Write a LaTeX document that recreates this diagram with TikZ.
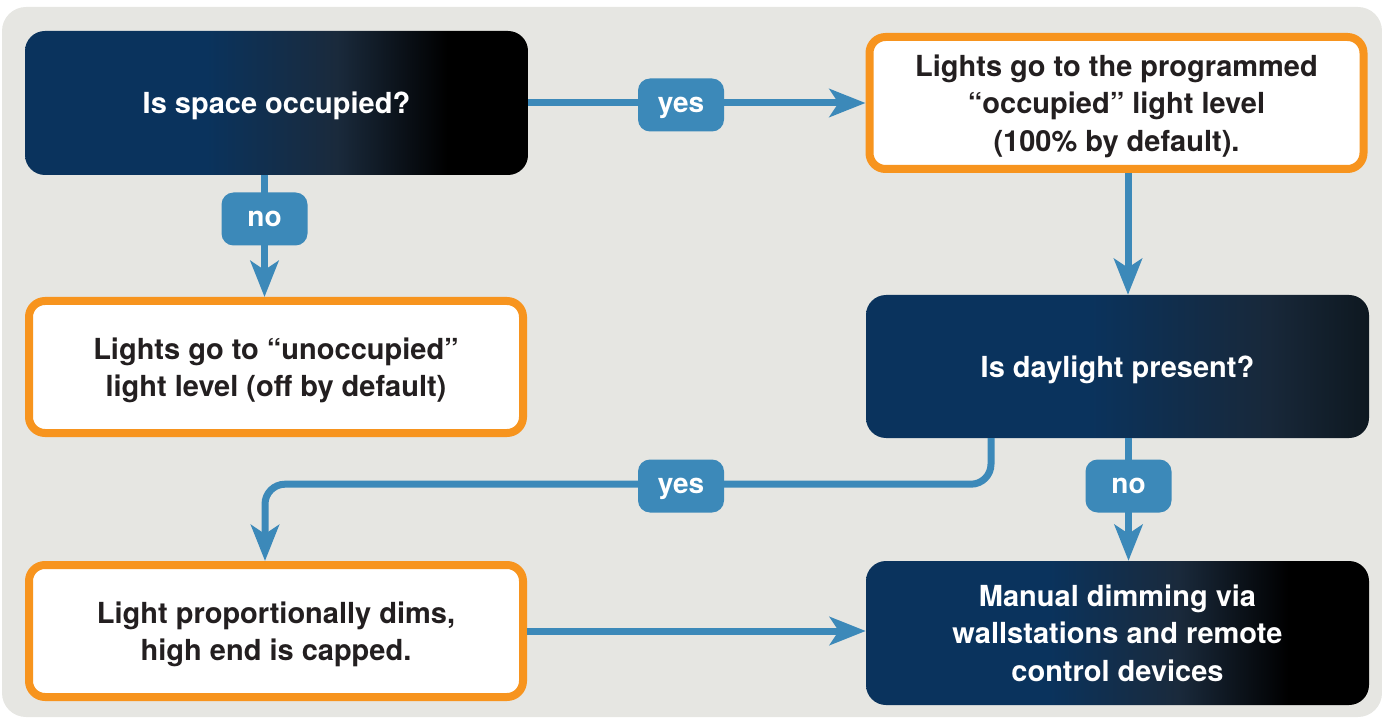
\documentclass[tikz,border=0pt]{standalone}
\usepackage{fontspec}
\setmainfont{TeX Gyre Heros}
\usetikzlibrary{arrows.meta,positioning}
\definecolor{panel}{HTML}{E6E6E2}
\definecolor{navy}{HTML}{0A335D}
\definecolor{midnight}{HTML}{1A2A3C}
\definecolor{slate}{HTML}{18283A}
\definecolor{ink}{HTML}{0E1820}
\definecolor{flow}{HTML}{3C89B9}
\definecolor{amber}{HTML}{F7941E}
\definecolor{textdark}{HTML}{231F20}
% shadings: the path is mapped onto 25bp--75bp
\pgfdeclarehorizontalshading{navyblack}{100bp}{color(0bp)=(navy); color(43bp)=(navy); color(56bp)=(midnight); color(67bp)=(black); color(100bp)=(black)}
\pgfdeclarehorizontalshading{navyslate}{100bp}{color(0bp)=(navy); color(47bp)=(navy); color(65bp)=(slate); color(75bp)=(ink); color(100bp)=(ink)}
\tikzset{
	boxfont/.style={font=\bfseries\fontsize{29}{37.5}\selectfont, text depth=0pt},
}

\begin{document}
\begin{tikzpicture}[x=1pt, y=-1pt,
		DarkBox/.style={boxfont, text=white, rounded corners=20pt, align=center, minimum width=503pt, minimum height=144pt, inner sep=0pt},
		LightBox/.style={boxfont, text=textdark, fill=white, draw=amber, line width=8pt, rounded corners=16pt, align=center, minimum width=494pt, minimum height=132pt, inner sep=0pt},
		Answer/.style={fill=flow, text=white, rounded corners=12pt, minimum width=86pt, minimum height=53pt, inner sep=0pt, text depth=0pt, font=\bfseries\fontsize{28}{34}\selectfont},
		Flow/.style={draw=flow, line width=7pt, -{Stealth[length=36pt, width=28pt, inset=9pt]}}]
	\useasboundingbox (0,0) rectangle (1382,719);
	\fill[panel, rounded corners=24pt] (2,7) rectangle (1382,717);

	% decisions and outcomes
	\node[DarkBox, shading=navyblack] (occupied) at (276.5,103) {Is space occupied?};
	\node[LightBox] (programmed) at (1116.5,103) {Lights go to the programmed\\“occupied” light level\\(100\% by default).};
	\node[LightBox] (unoccupied) at (276,367) {Lights go to “unoccupied”\\light level (off by default)};
	\node[DarkBox, minimum height=143pt, shading=navyslate] (daylight) at (1117.5,366.5) {Is daylight present?};
	\node[LightBox] (dims) at (276,631) {Light proportionally dims,\\high end is capped.};
	\node[DarkBox, shading=navyblack] (manual) at (1117.5,633) {Manual dimming via\\wallstations and remote\\control devices};

	% connectors
	\draw[Flow] (occupied.east) -- (programmed.west);
	\draw[Flow] ([xshift=-12pt]occupied.south) -- ([xshift=-12pt]occupied.south |- unoccupied.north);
	\draw[Flow] ([xshift=11.5pt]programmed.south) -- ([xshift=11.5pt]programmed.south |- daylight.north);
	\draw[Flow, rounded corners=20pt] ([xshift=-126.5pt]daylight.south) -- ++(0,46) -| ([xshift=-11pt]dims.north);
	\draw[Flow] ([xshift=11pt]daylight.south) -- ([xshift=11pt]daylight.south |- manual.north);
	\draw[Flow] (dims.east) -- (dims.east -| manual.west);

	% answers
	\node[Answer] (yesoccupied) at (681,105) {yes};
	\node[Answer] (nooccupied) at (264.5,219) {no};
	\node[Answer] (yesdaylight) at (681,486) {yes};
	\node[Answer] (nodaylight) at (1128.5,486) {no};
\end{tikzpicture}
\end{document}
